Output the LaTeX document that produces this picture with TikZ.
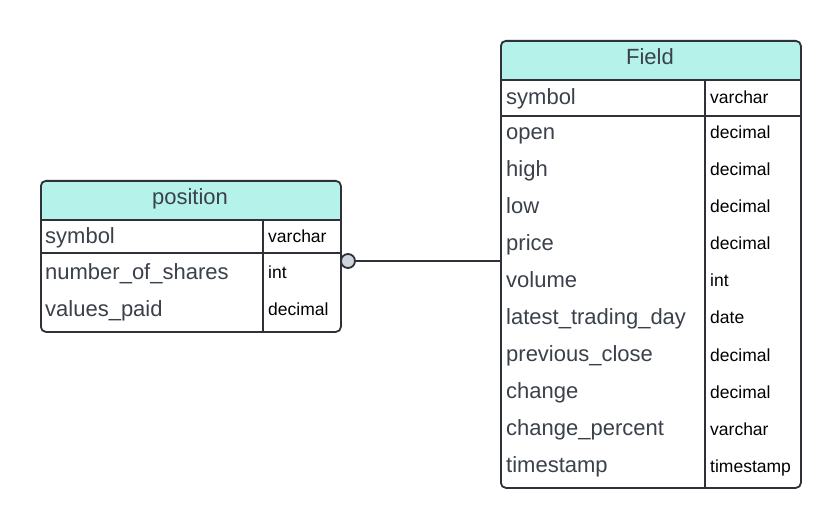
\documentclass[tikz,border=0pt]{standalone}
\usepackage{fontspec}
\setmainfont{Liberation Sans}
\definecolor{headfill}{HTML}{B4F2EA}
\definecolor{edge}{HTML}{2E3238}
\definecolor{txtgray}{HTML}{3A414A}
\definecolor{dotfill}{HTML}{CFD4DD}
\tikzset{
  tablebox/.style={draw=edge, line width=1.8bp, rounded corners=5bp, inner sep=0pt, rectangle},
  divider/.style={draw=edge, line width=1.8bp},
  fieldname/.style={anchor=base west, inner sep=0pt, text=txtgray, font=\fontsize{22bp}{26bp}\selectfont},
  fieldtype/.style={anchor=base west, inner sep=0pt, text=black, font=\fontsize{17.5bp}{21bp}\selectfont},
  title/.style={anchor=base, inner sep=0pt, text=txtgray, font=\fontsize{22bp}{26bp}\selectfont},
  link/.style={draw=edge, line width=1.8bp},
  zeroone/.style={circle, draw=edge, fill=dotfill, line width=1.8bp, minimum size=14bp, inner sep=0pt}
}
\begin{document}
\begin{tikzpicture}[x=1bp,y=-1bp]
\useasboundingbox (0,0) rectangle (840,527);
% ---- position table ----
\fill[headfill, rounded corners=5bp] (40,180) rectangle (340,220);
\fill[headfill] (40,210) rectangle (340,220);
\fill[white] (40,220) rectangle (340,326);
\node[tablebox, minimum width=300bp, minimum height=151bp, anchor=north west] (pos) at (40,180) {};
\draw[divider] (40,220) -- (340,220);
\draw[divider] (40,253) -- (340,253);
\draw[divider] (263,220) -- (263,331);
\node[title] (postitle) at (190,205) {position};
\foreach \n/\t/\y [count=\i] in {symbol/varchar/236, number\_of\_shares/int/272, values\_paid/decimal/309}{
  \node[fieldname] (pn\i) at (45,\y+7.5) {\n};
  \node[fieldtype] (pt\i) at (268,\y+7) {\t};
}
% ---- Field table ----
\fill[headfill, rounded corners=5bp] (500,40) rectangle (800,80);
\fill[headfill] (500,70) rectangle (800,80);
\node[tablebox, minimum width=300bp, minimum height=447bp, anchor=north west] (fld) at (500,40) {};
\draw[divider] (500,80) -- (800,80);
\draw[divider] (500,116) -- (800,116);
\draw[divider] (705,80) -- (705,487);
\node[title] (fldtitle) at (650,65) {Field};
\foreach \n/\t/\y [count=\i] in {symbol/varchar/97, open/decimal/132, high/decimal/169, low/decimal/206, price/decimal/243, volume/int/280, latest\_trading\_day/date/317, previous\_close/decimal/354, change/decimal/391, change\_percent/varchar/428, timestamp/timestamp/465}{
  \node[fieldname] (fn\i) at (506,\y+7.5) {\n};
  \node[fieldtype] (ft\i) at (710,\y+7) {\t};
}
% ---- relationship ----
\node[zeroone] (zo) at (348,261) {};
\draw[link] (zo.east) -- (zo -| fld.west);
\end{tikzpicture}
\end{document}
